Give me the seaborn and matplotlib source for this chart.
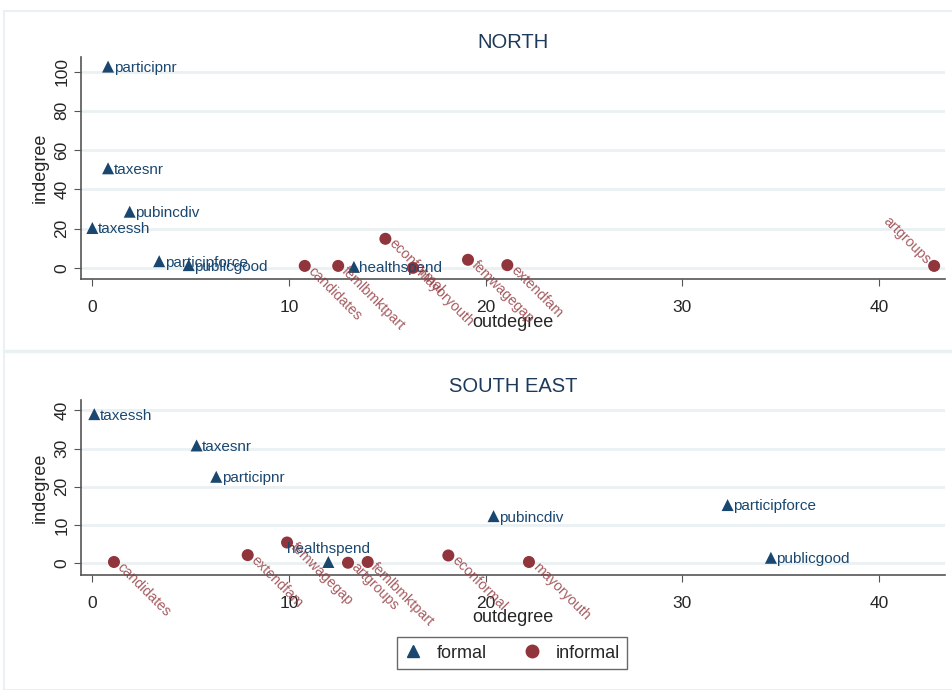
import pandas as pd
import matplotlib
matplotlib.use("Agg")
import matplotlib.pyplot as plt
import seaborn as sns
from matplotlib.lines import Line2D
from matplotlib.patches import Rectangle

# NORTH
north_nodes = ["participnr", "taxesnr", "pubincdiv", "taxessh", "participforce", "publicgood", "healthspend",
               "candidates", "femlbmktpart", "econformal", "mayoryouth", "femwagegap", "extendfam", "artgroups"]
north_out = [0.8, 0.8, 1.9, 0.0, 3.4, 4.9, 13.3, 10.8, 12.5, 14.9, 16.3, 19.1, 21.1, 42.8]
north_in = [102.5, 50.7, 28.6, 20.3, 3.4, 1.4, 0.5, 1.0, 1.0, 14.8, 0.0, 4.1, 1.4, 1.0]
north_type = ["formal"] * 7 + ["informal"] * 7

# SOUTH EAST
south_nodes = ["taxessh", "taxesnr", "participnr", "healthspend", "pubincdiv", "participforce", "publicgood",
               "candidates", "extendfam", "femwagegap", "artgroups", "femlbmktpart", "econformal", "mayoryouth"]
south_out = [0.1, 5.3, 6.3, 12.0, 20.4, 32.3, 34.5, 1.1, 7.9, 9.9, 13.0, 14.0, 18.1, 22.2]
south_in = [39.0, 30.8, 22.6, 0.3, 12.3, 15.2, 1.4, 0.3, 2.1, 5.4, 0.1, 0.3, 2.0, 0.3]
south_type = ["formal"] * 7 + ["informal"] * 7

north = pd.DataFrame({"node": north_nodes, "outdegree": north_out, "indegree": north_in, "type": north_type})
south = pd.DataFrame({"node": south_nodes, "outdegree": south_out, "indegree": south_in, "type": south_type})

sns.set_style("white")
plt.rcParams["font.family"] = ["Liberation Sans", "DejaVu Sans"]

navy = "#1a476f"
maroon = "#90353b"
grid_c = "#eaf1f3"
pal = {"formal": navy, "informal": maroon}
mk = {"formal": "^", "informal": "o"}

fig = plt.figure(figsize=(9.52, 6.9), dpi=100)
ax1 = fig.add_axes([0.0848, 0.595, 0.9078, 0.323])
ax2 = fig.add_axes([0.0848, 0.1667, 0.9078, 0.2536])

# outer frame and separator
fig.add_artist(Rectangle((4 / 952, 0), 1, 1 - 10.7 / 690, transform=fig.transFigure,
                         fill=False, edgecolor=grid_c, lw=1.5))
fig.add_artist(Line2D([4 / 952, 1], [1 - 351 / 690] * 2, transform=fig.transFigure, color=grid_c, lw=2.5))


def panel(ax, df, title, ylim, yticks, label_top=(), label_left=()):
    ax.set_axisbelow(True)
    for t in yticks:
        ax.axhline(t, color=grid_c, lw=2, zorder=0)
    sns.scatterplot(data=df, x="outdegree", y="indegree", hue="type", style="type",
                    palette=pal, markers=mk, s=75, linewidth=0, ax=ax, legend=False, zorder=3)
    for _, r in df.iterrows():
        xy = (r["outdegree"], r["indegree"])
        if r["type"] == "formal":
            if r["node"] in label_top:
                ax.annotate(r["node"], xy, xytext=(0, 4), textcoords="offset points",
                            ha="center", va="bottom", fontsize=11, color=navy, zorder=4)
            else:
                ax.annotate(r["node"], xy, xytext=(4, -1), textcoords="offset points",
                            ha="left", va="center", fontsize=11, color=navy, zorder=4)
        elif r["node"] in label_left:
            ax.annotate(r["node"], xy, xytext=(-4, 3), textcoords="offset points",
                        ha="right", va="center", rotation=-45, rotation_mode="anchor",
                        fontsize=10.3, color=maroon, alpha=0.8, zorder=4)
        else:
            ax.annotate(r["node"], xy, xytext=(4, -2), textcoords="offset points",
                        ha="left", va="center", rotation=-45, rotation_mode="anchor",
                        fontsize=10.3, color=maroon, alpha=0.8, zorder=4)
    ax.set_xlim(-0.59, 43.35)
    ax.set_ylim(*ylim)
    ax.set_xticks([0, 10, 20, 30, 40])
    ax.set_yticks(yticks)
    ax.tick_params(axis="x", labelsize=12.5, length=5, color="#555555", pad=10)
    ax.tick_params(axis="y", labelsize=12.5, length=5, color="#555555", pad=3)
    for lab in ax.get_yticklabels():
        lab.set_rotation(90)
        lab.set_va("center")
    for s in ["top", "right"]:
        ax.spines[s].set_visible(False)
    for s in ["left", "bottom"]:
        ax.spines[s].set_color("#555555")
        ax.spines[s].set_linewidth(1.2)
    ax.tick_params(direction="out", bottom=True, left=True)
    ax.set_xlabel("outdegree", fontsize=13, labelpad=-1)
    ax.set_ylabel("indegree", fontsize=13, labelpad=4)
    ax.set_title(title, fontsize=14.5, color="#1e3a5a", pad=6)


panel(ax1, north, "NORTH", (-5.9, 107.6), [0, 20, 40, 60, 80, 100], label_left=("artgroups",))
panel(ax2, south, "SOUTH EAST", (-3.1, 42.7), [0, 10, 20, 30, 40], label_top=("healthspend",))

handles = [Line2D([], [], marker="^", color=navy, ls="", markersize=9),
           Line2D([], [], marker="o", color=maroon, ls="", markersize=9)]
fig.legend(handles, ["formal", "informal"], loc="center", bbox_to_anchor=(0.538, 1 - 653 / 690),
           ncol=2, fontsize=13, frameon=True, fancybox=False, edgecolor="#444444",
           handlelength=1.0, handletextpad=0.8, columnspacing=2.0, borderpad=0.4)

fig.savefig("out.png", dpi=100)
